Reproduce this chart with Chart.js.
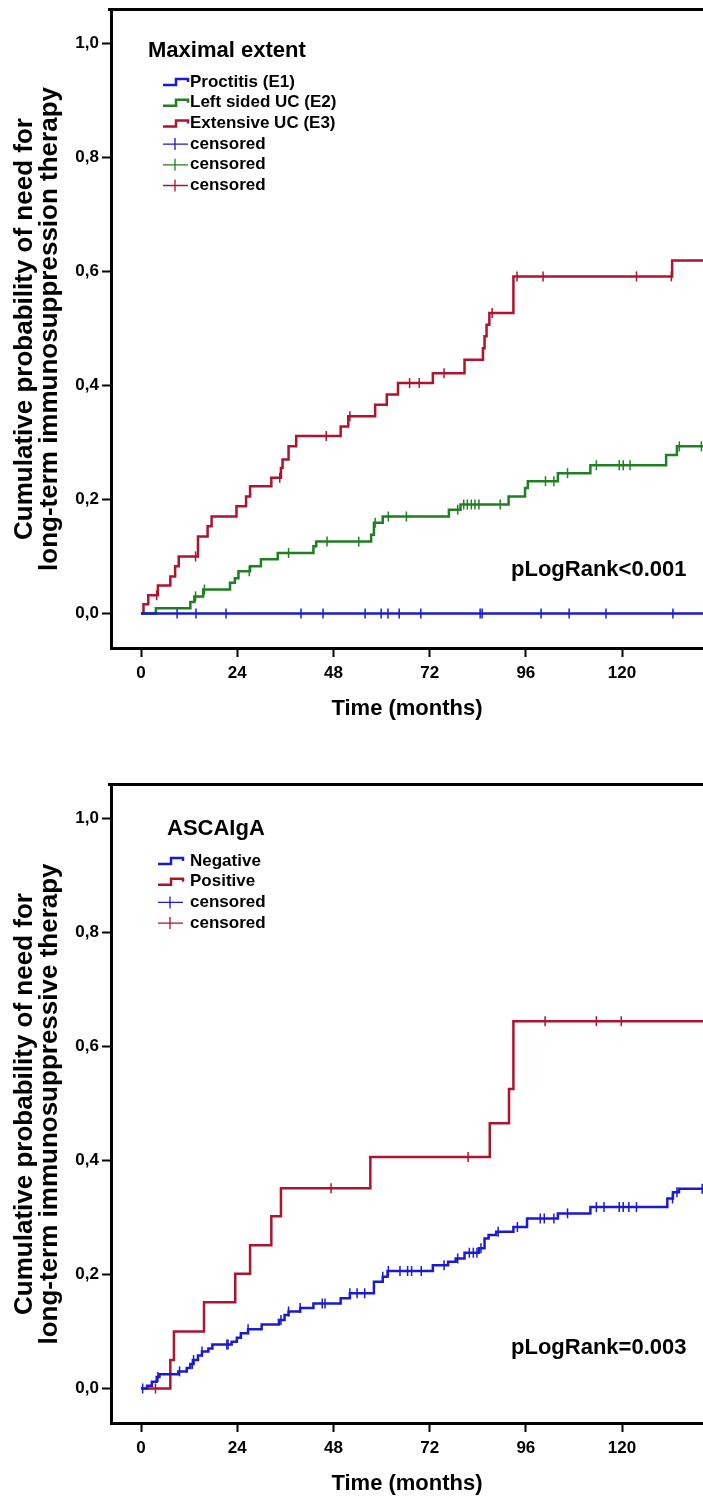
<!DOCTYPE html>
<html>
<head>
<meta charset="utf-8">
<script src="https://cdn.jsdelivr.net/npm/chart.js@4.4.1/dist/chart.umd.min.js"></script>
<style>
  html, body { margin: 0; padding: 0; background: #fff; overflow: hidden; }
  .panel { position: absolute; left: 0; width: 703px; height: 735px; }
  #panelTop { top: 0; }
  #panelBottom { top: 775px; }
</style>
</head>
<body>
<div class="panel" id="panelTop"><canvas id="extentChart" width="703" height="735"></canvas></div>
<div class="panel" id="panelBottom"><canvas id="ascaChart" width="703" height="735"></canvas></div>
<script>
// axes
const xTicks = [0, 24, 48, 72, 96, 120];
const yTicks = [0, 0.2, 0.4, 0.6, 0.8, 1.0];
const yTickLabels = ['0,0', '0,2', '0,4', '0,6', '0,8', '1,0'];

// --- Maximal extent (months, cumulative probability after each event) ---
const extentLabels = ['Proctitis (E1)', 'Left sided UC (E2)', 'Extensive UC (E3)'];
const e1Times = [];
const e1Values = [];
const e1Censored = [9.0, 13.7, 21.2, 39.9, 45.4, 55.9, 59.9, 61.6, 64.4, 69.8, 84.6, 85.1, 99.8, 106.8, 116.0, 132.7];
const e2Times = [3.7, 12.3, 13.3, 15.5, 22.2, 23.4, 24.3, 27.2, 29.9, 34.1, 43.0, 43.7, 57.4, 58.1, 60.3, 76.8, 79.7, 91.7, 95.8, 96.5, 104.0, 112.1, 131.0, 133.7];
const e2Values = [0.009, 0.020, 0.030, 0.042, 0.054, 0.062, 0.074, 0.083, 0.095, 0.106, 0.118, 0.126, 0.138, 0.159, 0.170, 0.182, 0.191, 0.205, 0.220, 0.232, 0.246, 0.260, 0.278, 0.293];
const e2Censored = [13.6, 15.8, 27.0, 36.8, 46.4, 54.3, 58.4, 61.7, 66.2, 79.0, 80.5, 81.4, 82.4, 83.3, 84.3, 89.6, 100.9, 103.0, 106.4, 113.6, 119.3, 120.3, 122.0, 134.3, 139.8];
const e3Times = [0.6, 1.8, 4.2, 7.3, 8.5, 9.4, 14.2, 16.6, 17.6, 23.8, 26.2, 27.2, 32.5, 34.9, 35.3, 36.8, 38.7, 49.8, 51.7, 58.4, 61.3, 64.1, 72.8, 80.7, 85.3, 85.7, 86.2, 86.9, 92.9, 132.5];
const e3Values = [0.016, 0.032, 0.049, 0.065, 0.083, 0.100, 0.135, 0.153, 0.170, 0.188, 0.205, 0.223, 0.238, 0.255, 0.270, 0.293, 0.311, 0.328, 0.346, 0.366, 0.384, 0.404, 0.421, 0.445, 0.465, 0.486, 0.506, 0.527, 0.591, 0.619];
const e3Censored = [3.9, 13.6, 34.6, 46.2, 52.1, 67.0, 69.4, 75.6, 87.6, 93.8, 100.3, 123.6, 132.3];

// --- ASCA IgA ---
const ascaLabels = ['Negative', 'Positive'];
const negTimes = [1.5, 2.7, 3.9, 4.6, 9.3, 11.4, 12.3, 13.1, 14.2, 15.2, 16.8, 17.8, 22.6, 23.9, 24.9, 26.7, 30.1, 34.4, 35.8, 36.8, 39.7, 43.0, 49.8, 52.1, 58.1, 60.3, 61.5, 72.8, 76.6, 78.5, 80.7, 84.3, 85.7, 86.7, 88.6, 92.9, 96.3, 104.0, 112.1, 131.3, 132.7, 134.2];
const negValues = [0.005, 0.012, 0.020, 0.025, 0.030, 0.036, 0.043, 0.050, 0.058, 0.065, 0.070, 0.077, 0.082, 0.089, 0.097, 0.104, 0.112, 0.120, 0.129, 0.135, 0.141, 0.149, 0.158, 0.167, 0.187, 0.196, 0.206, 0.216, 0.222, 0.228, 0.238, 0.246, 0.263, 0.269, 0.275, 0.283, 0.298, 0.307, 0.318, 0.333, 0.344, 0.350];
const negCensored = [0.4, 4.2, 9.6, 12.8, 13.1, 15.2, 21.4, 21.7, 26.7, 34.9, 36.8, 39.7, 45.2, 45.9, 52.1, 53.9, 55.8, 60.3, 61.7, 64.6, 66.5, 67.5, 69.9, 75.6, 79.0, 81.9, 82.9, 83.8, 84.8, 89.1, 93.9, 99.6, 100.6, 103.0, 106.4, 113.6, 115.5, 119.3, 120.3, 121.7, 123.6, 132.6, 133.7, 140.0];
const posTimes = [7.3, 8.2, 15.7, 23.5, 27.2, 32.5, 34.9, 57.2, 87.0, 91.8, 92.9];
const posValues = [0.050, 0.100, 0.151, 0.201, 0.251, 0.302, 0.351, 0.406, 0.465, 0.525, 0.644];
const posCensored = [3.6, 47.4, 81.6, 100.8, 113.6, 119.8];

const FONT = "'Liberation Sans', Arial, Helvetica, sans-serif";
const BLUE = '#1a1ad2', GREEN = '#1f7f22', RED = '#b0132d';
const X_MIN = -7.5, X_MAX = 140.2, X_END = 150;

function stepPoints(times, values) {
  const pts = [{ x: 0, y: 0 }];
  times.forEach((t, i) => pts.push({ x: t, y: values[i] }));
  pts.push({ x: X_END, y: values.length ? values[values.length - 1] : 0 });
  return pts;
}

function valueAt(times, values, t) {
  let v = 0;
  times.forEach((tt, i) => { if (tt <= t) v = values[i]; });
  return v;
}

function curveSet(label, color, times, values) {
  return {
    label, kind: 'step', data: stepPoints(times, values),
    borderColor: color, borderWidth: 2.5, stepped: true,
    pointRadius: 0, pointHoverRadius: 0, fill: false,
  };
}

function censorSet(color, times, values, cens) {
  return {
    label: 'censored', kind: 'cens',
    data: cens.map(t => ({ x: t, y: valueAt(times, values, t) })),
    showLine: false, borderColor: color,
    pointStyle: 'line', pointRotation: 90, pointRadius: 5,
    pointBorderWidth: 1.5, pointBorderColor: color, pointHoverRadius: 0,
  };
}

// legend, frame top line and log-rank note
const kmDecor = {
  id: 'kmDecor',
  afterDraw(chart, args, opts) {
    const { ctx, chartArea } = chart;
    ctx.save();
    ctx.fillStyle = '#000';
    ctx.fillRect(chartArea.left - 3, chartArea.top - 2, chartArea.right - chartArea.left + 3, 3);

    ctx.font = `bold 22px ${FONT}`;
    ctx.textBaseline = 'alphabetic';
    ctx.fillText(opts.title, opts.titleX, opts.titleY);

    ctx.font = `bold 17px ${FONT}`;
    ctx.textBaseline = 'middle';
    const sets = chart.data.datasets;
    const order = sets.filter(d => d.kind === 'step').concat(sets.filter(d => d.kind === 'cens'));
    order.forEach((d, i) => {
      const cy = opts.rowY + i * opts.rowGap;
      const x0 = opts.iconX, x1 = x0 + 25;
      ctx.strokeStyle = d.borderColor;
      ctx.beginPath();
      if (d.kind === 'step') {
        ctx.lineWidth = 2.5;
        ctx.moveTo(x0, cy + 3); ctx.lineTo(x0 + 13, cy + 3);
        ctx.lineTo(x0 + 13, cy - 3); ctx.lineTo(x1, cy - 3); ctx.lineTo(x1, cy);
      } else {
        ctx.lineWidth = 1.3;
        ctx.moveTo(x0, cy); ctx.lineTo(x1, cy);
        ctx.moveTo(x0 + 12, cy - 6); ctx.lineTo(x0 + 12, cy + 6);
      }
      ctx.stroke();
      ctx.fillStyle = '#000';
      ctx.fillText(d.label, opts.textX, cy);
    });

    ctx.font = `bold 22px ${FONT}`;
    ctx.textBaseline = 'alphabetic';
    ctx.fillText(opts.pText, opts.pX, opts.pY);
    ctx.restore();
  }
};

function makeKmChart(id, datasets, yTitle, decor) {
  const ctx = document.getElementById(id).getContext('2d');
  return new Chart(ctx, {
    type: 'line',
    data: { datasets },
    plugins: [kmDecor],
    options: {
      responsive: false, animation: false, events: [],
      layout: { autoPadding: false, padding: { top: 10, right: 0, bottom: 0, left: 0 } },
      plugins: { legend: { display: false }, tooltip: { enabled: false }, kmDecor: decor },
      scales: {
        x: {
          type: 'linear', min: X_MIN, max: X_MAX,
          afterBuildTicks: s => { s.ticks = xTicks.map(v => ({ value: v })); },
          afterFit: s => { s.height = 87; s.paddingLeft = 0; s.paddingRight = 0; },
          ticks: { color: '#000', padding: 6, font: { family: FONT, size: 17, weight: 'bold' } },
          grid: { drawOnChartArea: false, drawTicks: true, tickLength: 9, tickWidth: 2, tickColor: '#000' },
          border: { display: true, width: 3, color: '#000' },
          title: { display: true, text: 'Time (months)', color: '#000',
                   font: { family: FONT, size: 22, weight: 'bold' }, padding: { top: 0, bottom: 13 } },
        },
        y: {
          type: 'linear', min: -0.0605, max: 1.058,
          afterBuildTicks: s => { s.ticks = yTicks.map(v => ({ value: v })); },
          afterFit: s => { s.width = 111; s.paddingTop = 0; s.paddingBottom = 0; },
          ticks: { color: '#000', padding: 3, font: { family: FONT, size: 17, weight: 'bold' },
                   callback: (v, i) => yTickLabels[i] },
          grid: { drawOnChartArea: false, drawTicks: true, tickLength: 9, tickWidth: 2, tickColor: '#000' },
          border: { display: true, width: 3, color: '#000' },
          title: { display: true, text: yTitle, color: '#000',
                   font: { family: FONT, size: 26, weight: 'bold', lineHeight: 0.98 }, padding: { top: 12, bottom: 0 } },
        },
      },
    },
  });
}

makeKmChart('extentChart', [
  curveSet(extentLabels[0], BLUE, e1Times, e1Values),
  curveSet(extentLabels[1], GREEN, e2Times, e2Values),
  curveSet(extentLabels[2], RED, e3Times, e3Values),
  censorSet(BLUE, e1Times, e1Values, e1Censored),
  censorSet(GREEN, e2Times, e2Values, e2Censored),
  censorSet(RED, e3Times, e3Values, e3Censored),
], ['Cumulative probability of need for', 'long-term immunosuppression therapy'], {
  title: 'Maximal extent', titleX: 148, titleY: 57,
  iconX: 163, textX: 190, rowY: 82, rowGap: 20.7,
  pText: 'pLogRank<0.001', pX: 511, pY: 576,
});

makeKmChart('ascaChart', [
  curveSet(ascaLabels[0], BLUE, negTimes, negValues),
  curveSet(ascaLabels[1], RED, posTimes, posValues),
  censorSet(BLUE, negTimes, negValues, negCensored),
  censorSet(RED, posTimes, posValues, posCensored),
], ['Cumulative probability of need for', 'long-term immunosuppressive therapy'], {
  title: 'ASCAIgA', titleX: 167, titleY: 60,
  iconX: 158, textX: 190, rowY: 86, rowGap: 20.7,
  pText: 'pLogRank=0.003', pX: 511, pY: 579,
});
</script>
</body>
</html>
